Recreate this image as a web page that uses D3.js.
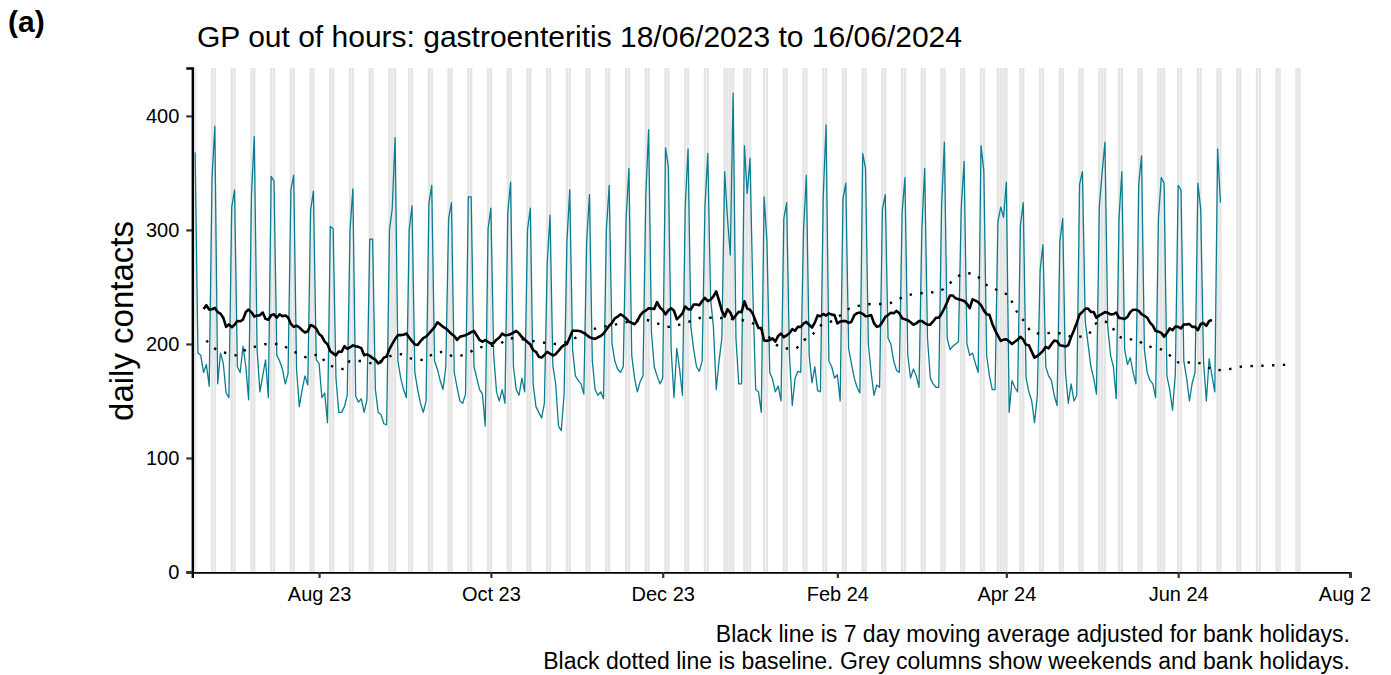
<!DOCTYPE html>
<html><head><meta charset="utf-8">
<script src="https://cdn.jsdelivr.net/npm/d3@7"></script>
<style>
body{margin:0;background:#fff}
svg{display:block}
text{font-family:"Liberation Sans", Arial, sans-serif}
</style>
</head><body>
<svg id="chart" width="1391" height="675"></svg>
<script>
// ---------------- data ----------------
const startDate = "2023-06-18";           // first day of dailyContacts (a Sunday)
// daily contacts, Sun 18/06/2023 then one row per week (Mon..Sun)
const dailyContacts = [
  368,
  192,190,175,182,163,345,391,
  165,192,183,157,153,320,335,
  180,175,198,180,151,330,382,
  195,158,172,186,153,347,343,
  190,185,178,165,174,335,348,
  178,145,160,172,164,317,334,
  186,183,153,157,131,303,301,
  170,140,140,145,155,300,336,
  154,149,152,140,151,292,292,
  160,140,138,130,129,300,319,
  381,185,170,160,153,300,321,
  175,160,148,140,150,323,339,
  185,178,168,160,180,310,324,
  175,162,150,148,156,329,329,
  180,170,160,156,128,301,319,
  190,158,150,160,148,315,342,
  180,160,155,170,158,300,319,
  165,145,140,135,148,270,313,
  181,165,128,124,156,290,335,
  195,172,168,165,156,290,331,
  185,160,155,158,152,300,339,
  200,185,178,175,180,310,354,
  190,170,158,167,172,330,388,
  210,180,172,165,170,372,355,
  195,153,196,178,155,320,371,
  215,195,180,176,185,320,367,
  240,215,160,185,205,351,310,
  278,420,205,165,165,374,332,
  363,245,160,158,140,329,290,
  175,169,158,163,150,310,324,
  190,146,170,176,175,300,348,
  190,166,180,159,158,330,392,
  185,180,170,173,150,327,341,
  196,183,170,162,157,367,354,
  200,175,155,164,162,318,331,
  205,200,185,177,175,315,346,
  190,170,178,172,162,300,354,
  205,170,165,162,162,320,377,
  205,195,198,200,202,320,360,
  200,190,192,183,175,374,352,
  190,172,160,160,307,320,311,
  342,140,168,162,158,304,324,
  170,158,150,131,155,265,287,
  180,172,168,155,146,290,310,
  175,148,165,150,155,340,351,
  220,200,180,170,156,320,350,
  377,215,190,180,152,310,351,
  195,182,188,175,165,340,365,
  195,175,168,165,153,310,346,
  341,172,160,142,174,339,335,
  185,170,150,166,175,341,318,
  185,150,187,172,158,371,324
];
const bankHolidays = ["2023-08-28","2023-12-25","2023-12-26","2024-01-01",
                      "2024-03-29","2024-04-01","2024-05-06","2024-05-27"];
const shadeFrom = "2023-06-17";
const shadeTo   = "2024-07-14";
// baseline: days after startDate and expected daily contacts
const baselineDays = [4,7,11,15,18,22,26,30,33,37,40,44,46,49,53,55,59,63,66,70,73,77,81,85,88,92,96,100,108,112,124,128,143,147,160,164,168,172,176,180,184,190,194,200,203,206,209,213,216,219,222,226,229,233,237,240,245,248,252,256,260,264,267,270,274,277,280,283,286,289,290,292,295,297,301,305,309,312,317,319,322,325,327,331,334,337,340,344,347,350,354,358,361,365,371,380,389];
const baselineValues = [203,196,192,190,195,198,200,200,196,191,188,191,185,180,178,185,185,183,185,190,191,187,186,192,193,189,191,196,200,205,201,200,214,216,221,218,215,217,220,223,223,222,221,215,208,200,196,196,203,208,216,220,225,232,234,235,235,237,242,244,245,246,251,258,262,261,253,250,245,243,237,227,218,210,209,210,208,206,208,216,220,217,209,204,204,199,197,194,188,183,184,182,178,177,180,181,182];
const xDomain = ["2023-06-17","2024-08-01"];
const xTickDates  = ["2023-08-01","2023-10-01","2023-12-01","2024-02-01","2024-04-01","2024-06-01","2024-08-01"];
const xTickLabels = ["Aug 23","Oct 23","Dec 23","Feb 24","Apr 24","Jun 24","Aug 24"];
const yTicks = [0,100,200,300,400];
const yMax = 442;
const titleText = "GP out of hours: gastroenteritis 18/06/2023 to 16/06/2024";
const yLabel = "daily contacts";
const captionLines = ["Black line is 7 day moving average adjusted for bank holidays.",
                      "Black dotted line is baseline. Grey columns show weekends and bank holidays."];

// ---------------- layout ----------------
const parse = d3.utcParse("%Y-%m-%d");
const fmt = d3.utcFormat("%Y-%m-%d");
const L = 192.3, R = 1350, T = 68, B = 572;
const svg = d3.select("#chart");
const x = d3.scaleUtc().domain(xDomain.map(parse)).range([L, R]);
const y = d3.scaleLinear().domain([0, yMax]).range([B, T]);
const start = parse(startDate);
const dates = dailyContacts.map((v, i) => d3.utcDay.offset(start, i));
const dayW = x(d3.utcDay.offset(start, 1)) - x(start);
const bh = new Set(bankHolidays);

svg.append("defs").append("clipPath").attr("id", "plotclip")
  .append("rect").attr("x", L).attr("y", T).attr("width", R - L + 2).attr("height", B - T);
svg.select("defs").append("clipPath").attr("id", "pageclip")
  .append("rect").attr("x", 0).attr("y", 0).attr("width", 1371).attr("height", 675);

// grey columns: weekends and bank holidays
const shadeDays = d3.utcDay.range(parse(shadeFrom), d3.utcDay.offset(parse(shadeTo), 1))
  .filter(d => d.getUTCDay() === 0 || d.getUTCDay() === 6 || bh.has(fmt(d)));
svg.append("g").attr("clip-path", "url(#plotclip)")
  .selectAll("rect").data(shadeDays).join("rect")
  .attr("x", d => x(d) - dayW / 2 + 0.2)
  .attr("width", dayW - 0.4)
  .attr("y", T).attr("height", B - T)
  .attr("fill", "#e5e5e5");

// daily series
const series = dailyContacts.map((v, i) => ({date: dates[i], value: v}));
svg.append("path").datum(series)
  .attr("fill", "none").attr("stroke", "#0a7d90").attr("stroke-width", 1.3)
  .attr("stroke-linejoin", "round")
  .attr("d", d3.line().x(d => x(d.date)).y(d => y(d.value)));

// baseline (dotted)
const baseline = baselineDays.map((d, i) => ({date: d3.utcDay.offset(start, d), value: baselineValues[i]}));
svg.append("path").datum(baseline)
  .attr("fill", "none").attr("stroke", "#000").attr("stroke-width", 2.4)
  .attr("stroke-dasharray", "2.4,8.4")
  .attr("d", d3.line().curve(d3.curveMonotoneX).x(d => x(d.date)).y(d => y(d.value)));

// 7 day moving average, bank holidays replaced by that week's weekday mean
const adjusted = dailyContacts.map((v, i) => {
  if (!bh.has(fmt(dates[i]))) return v;
  const monday = i - ((dates[i].getUTCDay() + 6) % 7);
  const vals = [];
  for (let j = monday; j < monday + 5; j++)
    if (j >= 0 && j < dailyContacts.length && !bh.has(fmt(dates[j]))) vals.push(dailyContacts[j]);
  return d3.mean(vals);
});
const ma = d3.range(3, dailyContacts.length - 3)
  .map(i => ({date: dates[i], value: d3.mean(adjusted.slice(i - 3, i + 4))}));
svg.append("path").datum(ma)
  .attr("fill", "none").attr("stroke", "#000").attr("stroke-width", 2.6)
  .attr("stroke-linejoin", "round")
  .attr("d", d3.line().x(d => x(d.date)).y(d => y(d.value)));

// axes
const gx = svg.append("g").attr("transform", `translate(0,${B})`).attr("clip-path", "url(#pageclip)")
  .call(d3.axisBottom(x).tickValues(xTickDates.map(parse))
        .tickFormat((d, i) => xTickLabels[i]).tickSizeOuter(0).tickSize(6).tickPadding(9));
const gy = svg.append("g").attr("transform", `translate(${L},0)`)
  .call(d3.axisLeft(y).tickValues(yTicks).tickSizeOuter(0).tickSize(6).tickPadding(7));
[gx, gy].forEach(g => {
  g.select(".domain").attr("stroke", "#000").attr("stroke-width", 2.4);
  g.selectAll(".tick line").attr("stroke", "#333").attr("stroke-width", 2.2);
  g.selectAll(".tick text").attr("fill", "#000").style("font-size", "20px")
    .style("font-family", '"Liberation Sans", Arial, sans-serif');
});

// texts
svg.append("text").attr("x", 8).attr("y", 32).attr("font-size", 30).attr("font-weight", "bold").text("(a)");
svg.append("text").attr("x", 197).attr("y", 47).attr("font-size", 30).text(titleText);
svg.append("text").attr("transform", "translate(133,321) rotate(-90)")
  .attr("text-anchor", "middle").attr("font-size", 33).text(yLabel);
svg.selectAll("text.caption").data(captionLines).join("text").attr("class", "caption")
  .attr("x", 1350).attr("y", (d, i) => 642 + i * 27)
  .attr("text-anchor", "end").attr("font-size", 23).text(d => d);
</script>
</body></html>
